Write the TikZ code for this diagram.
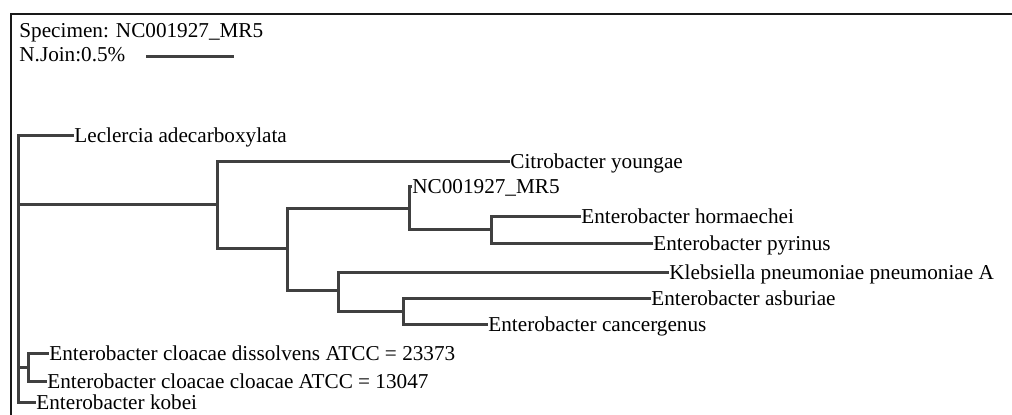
\documentclass[tikz,border=0pt]{standalone}
\usepackage{fontspec}
\setmainfont{Liberation Serif}
\usepackage{tikz}
\usetikzlibrary{positioning}

\begin{document}
\begin{tikzpicture}[
    x=0.5pt, y=-0.5pt,
    font=\fontsize{10.6}{12.7}\selectfont,
    frame/.style={draw=black!90, line width=0.9pt},
    branch/.style={draw=black!75, line width=1.5pt, line cap=rect},
    leaf/.style={anchor=west, inner xsep=1pt, inner ysep=0pt, text height=9pt, text depth=2pt},
    head/.style={anchor=base west, inner sep=0pt},
  ]
    \useasboundingbox (0,0) rectangle (1012,415);
    \fill[white] (0,0) rectangle (1012,415);
    \draw[frame] (11,415) -- (11,14) -- (1012,14);

    % ---------- header ----------
    \node[head] (spec)  at (19,38) {Specimen: NC001927\_MR5};
    \node[head] (njoin) at (19,62) {N.Join:0.5\%};
    \coordinate (barL) at (147,57);
    \coordinate (barR) at (232,57);
    \draw[branch] (barL) -- (barR);

    % ---------- inner nodes ----------
    \coordinate (root) at (18,205);
    \coordinate (nA) at (217,205);
    \coordinate (nB) at (287,249);
    \coordinate (nC) at (409,209);
    \coordinate (nD) at (491,230);
    \coordinate (nE) at (338,291);
    \coordinate (nF) at (403,312);
    \coordinate (nG) at (28,368);

    % ---------- leaves ----------
    \node[leaf] (lecl)    at (72,136)  {Leclercia adecarboxylata};
    \node[leaf] (citro)   at (508,162) {Citrobacter youngae};
    \node[leaf] (spc)     at (410,187) {NC001927\_MR5};
    \node[leaf] (horm)    at (579,217) {Enterobacter hormaechei};
    \node[leaf] (pyr)     at (651,244) {Enterobacter pyrinus};
    \node[leaf] (kleb)    at (667,273) {Klebsiella pneumoniae pneumoniae A};
    \node[leaf] (asbur)   at (649,299) {Enterobacter asburiae};
    \node[leaf] (cancer)  at (486,325) {Enterobacter cancergenus};
    \node[leaf] (dissol)  at (47,354)  {Enterobacter cloacae dissolvens ATCC = 23373};
    \node[leaf] (cloac)   at (45,382)  {Enterobacter cloacae cloacae ATCC = 13047};
    \node[leaf] (kobei)   at (34,403)  {Enterobacter kobei};

    % ---------- branches ----------
    \foreach \a/\b in {root/lecl, root/kobei, nA/citro, nC/spc, nD/horm, nD/pyr,
                       nE/kleb, nF/asbur, nF/cancer, nG/dissol, nG/cloac}
      \draw[branch] (\a) |- (\b.west);
    \foreach \a/\b in {root/nA, root/nG, nA/nB, nB/nC, nB/nE, nC/nD, nE/nF}
      \draw[branch] (\a) |- (\b);
  \end{tikzpicture}
\end{document}
